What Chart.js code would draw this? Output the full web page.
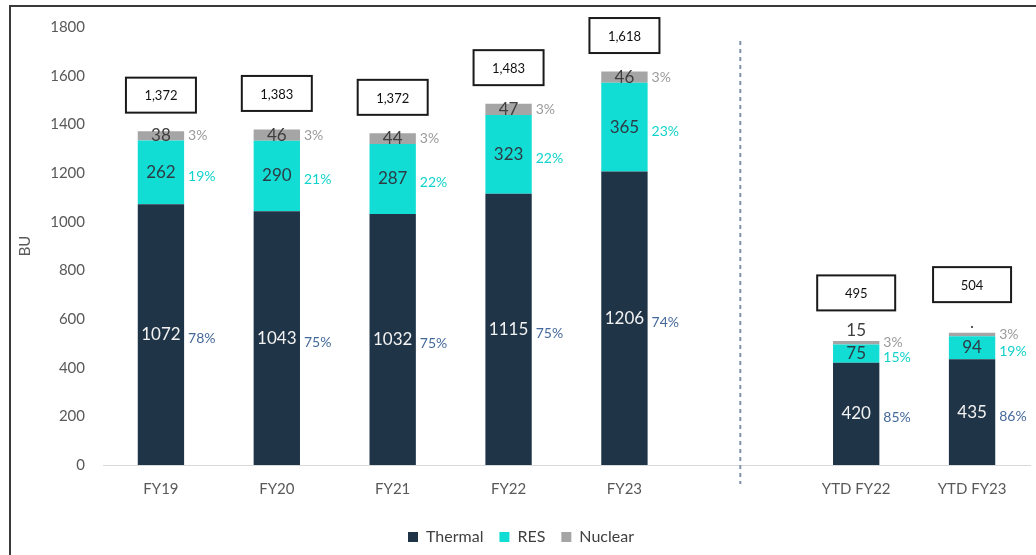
<!DOCTYPE html>
<html>
<head>
<meta charset="utf-8">
<script src="https://cdn.jsdelivr.net/npm/chart.js@4.4.1/dist/chart.umd.min.js"></script>
<style>
  html, body { margin: 0; padding: 0; background: #fff; overflow: hidden; }
  #wrap { position: relative; width: 1036px; height: 555px; }
  #frame { position: absolute; left: 9px; top: 5px; right: -4px; bottom: -4px;
           border-left: 2px solid #3a3a3a; border-top: 2px solid #3a3a3a; }
  canvas { position: absolute; left: 0; top: 0; }
</style>
</head>
<body>
<div id="wrap">
  <canvas id="myChart" width="1036" height="555"></canvas>
  <div id="frame"></div>
</div>
<script>
const ctx = document.getElementById("myChart");

const categories = ['FY19', 'FY20', 'FY21', 'FY22', 'FY23', '', 'YTD FY22', 'YTD FY23'];
const thermal = [1072, 1043, 1032, 1115, 1206, null, 420, 435];
const res = [262, 290, 287, 323, 365, null, 75, 94];
const nuclear = [38, 46, 44, 47, 46, null, 15, 15];
const nuclearText = ['38', '46', '44', '47', '46', '', '15', '.'];
const thermalPct = ['78%', '75%', '75%', '75%', '74%', '', '85%', '86%'];
const resPct = ['19%', '21%', '22%', '22%', '23%', '', '15%', '19%'];
const nuclearPct = ['3%', '3%', '3%', '3%', '3%', '', '3%', '3%'];
const totals = ['1,372', '1,383', '1,372', '1,483', '1,618', '', '495', '504'];
const yTicks = [0, 200, 400, 600, 800, 1000, 1200, 1400, 1600, 1800];

const FONT = "Lato, 'Open Sans', sans-serif";

// etiquetas de valores, porcentajes, cajas de totales y linea punteada
const labelsPlugin = {
  id: "labels",
  afterDatasetsDraw(chart) {
    const c = chart.ctx;
    const area = chart.chartArea;
    const xScale = chart.scales.x;

    // linea punteada que separa los años del YTD
    const xs = xScale.getPixelForValue(5);
    c.save();
    c.strokeStyle = "#7f93ad";
    c.lineWidth = 2;
    c.setLineDash([4, 4]);
    c.beginPath();
    c.moveTo(xs, area.top + 14);
    c.lineTo(xs, area.bottom + 19);
    c.stroke();
    c.restore();

    const valueColors = ["#f2f2f2", "#2d3b45", "#3f3f3f"];
    const pctColors = ["#44699a", "#12d3cc", "#9a9a9a"];
    const pctArrays = [thermalPct, resPct, nuclearPct];
    const valArrays = [thermal.map(v => v == null ? '' : String(v)), res.map(v => v == null ? '' : String(v)), nuclearText];

    c.save();
    c.textBaseline = "middle";
    chart.data.datasets.forEach((ds, di) => {
      const meta = chart.getDatasetMeta(di);
      meta.data.forEach((bar, j) => {
        if (ds.data[j] == null) return;
        const top = Math.min(bar.y, bar.base);
        const h = Math.abs(bar.base - bar.y);
        let cy = top + h / 2;
        let vy = cy;
        if (h < 8) vy = top - 10;
        // valor dentro de la barra
        c.font = "17px " + FONT;
        c.fillStyle = valueColors[di];
        c.textAlign = "center";
        c.fillText(valArrays[di][j], bar.x, vy);
        // porcentaje a la derecha
        c.font = "14px " + FONT;
        c.fillStyle = pctColors[di];
        c.textAlign = "left";
        let py = cy + (di === 2 ? 0 : 4);
        if (h < 8) py = top + 2;
        c.fillText(pctArrays[di][j], bar.x + bar.width / 2 + 4, py);
      });
    });

    // cajas con el total
    const last = chart.getDatasetMeta(2);
    last.data.forEach((bar, j) => {
      if (!totals[j]) return;
      const ytd = j > 5;
      const w = ytd ? 78 : 70;
      const hgt = 35;
      const cy = bar.y - (ytd ? 48 : 36);
      c.fillStyle = "#fff";
      c.fillRect(bar.x - w / 2, cy - hgt / 2, w, hgt);
      c.strokeStyle = "#1a1a1a";
      c.lineWidth = 2;
      c.strokeRect(bar.x - w / 2, cy - hgt / 2, w, hgt);
      c.font = "13px " + FONT;
      c.fillStyle = "#111";
      c.textAlign = "center";
      c.fillText(totals[j], bar.x, cy + 1);
    });
    c.restore();
  }
};

new Chart(ctx, {
  type: "bar",
  data: {
    labels: categories,
    datasets: [
      { label: "Thermal", data: thermal, backgroundColor: "#203447" },
      { label: "RES", data: res, backgroundColor: "#12ddd4" },
      { label: "Nuclear", data: nuclear, backgroundColor: "#a5a5a5" },
    ],
  },
  options: {
    responsive: false,
    animation: false,
    layout: { padding: { left: 12, right: 6, top: 14, bottom: 0 } },
    datasets: { bar: { categoryPercentage: 1, barPercentage: 0.4 } },
    plugins: {
      legend: {
        position: "bottom",
        labels: {
          boxWidth: 10, boxHeight: 10, padding: 16,
          color: "#404040", font: { family: FONT, size: 16 },
        },
      },
      tooltip: { enabled: false },
    },
    scales: {
      x: {
        stacked: true,
        grid: { display: false, drawTicks: false },
        border: { color: "#d9d9d9", width: 1 },
        ticks: { color: "#595959", font: { family: FONT, size: 15 }, padding: 15 },
      },
      y: {
        stacked: true,
        min: 0, max: 1800,
        afterBuildTicks: (s) => { s.ticks = yTicks.map(v => ({ value: v })); },
        afterFit: (s) => { s.width = 91; },
        grid: { display: false, drawTicks: false },
        border: { display: false },
        ticks: { color: "#595959", font: { family: FONT, size: 15 }, padding: 18, callback: (v) => String(v) },
        title: { display: true, text: "BU", color: "#595959", font: { family: FONT, size: 15 }, padding: { top: 4, bottom: 0 } },
      },
    },
  },
  plugins: [labelsPlugin],
});
</script>
</body>
</html>
